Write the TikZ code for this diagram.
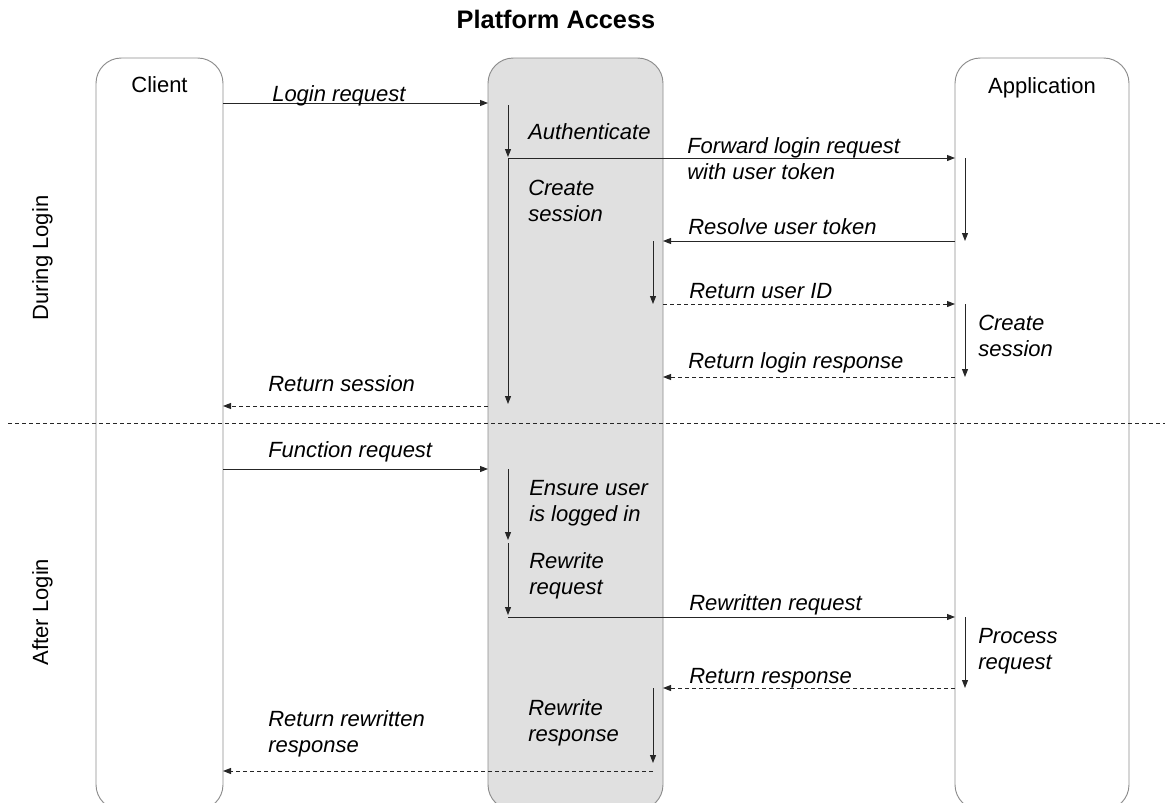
\documentclass[tikz,border=0pt]{standalone}
\usepackage{fontspec}
\setmainfont{Liberation Sans}
\usetikzlibrary{calc,arrows.meta}

\begin{document}
\begin{tikzpicture}[x=0.75pt,y=-0.75pt]
       \tikzstyle{lane} = [rectangle, rounded corners=19pt, draw=black!45, line width=0.7pt, minimum height=564pt, inner sep=0pt, outer sep=0pt];
       \tikzstyle{msg} = [draw=black!85, line width=0.75pt, -{Triangle[length=6pt,width=4.5pt]}];
       \tikzstyle{reply} = [msg, dash pattern=on 3pt off 2.25pt];
       \tikzstyle{lbl} = [anchor=base west, inner sep=0pt, align=left, font=\fontsize{16.5}{19.5}\selectfont\itshape];
       \tikzstyle{head} = [anchor=base, inner sep=0pt, font=\fontsize{16.5}{19.5}\selectfont];
       \useasboundingbox (0,0) rectangle (1168,803);
       \clip (0,0) rectangle (1168,803);

       % lanes
       \node[lane, minimum width=95.25pt] (client) at (159.5,434) {};
       \node[lane, minimum width=131.25pt, fill=black!12] (platform) at (575.5,434) {};
       \node[lane, minimum width=130.5pt] (app) at (1042,434) {};

       \node[head] (clienthd) at (159.5,92) {Client};
       \node[head] (apphd) at (1042,93) {Application};
       \node[head, font=\fontsize{19}{21}\selectfont\bfseries] (title) at (556,28) {Platform Access};
       \node[head, rotate=90] (during) at (48,258) {During Login};
       \node[head, rotate=90] (after) at (48,612) {After Login};

       % divider
       \coordinate (divl) at (8,423);
       \coordinate (divr) at (1165,423);
       \draw[black!85, line width=0.75pt, dash pattern=on 3pt off 2.25pt] (divl) -- (divr);

       % activation columns
       \coordinate (pl) at (508,0);
       \coordinate (pr) at (653,0);
       \coordinate (ap) at (965,0);

       % during login
       \coordinate (login) at (0,103);
       \coordinate (auth0) at (0,105);
       \coordinate (fwd) at (0,158);
       \coordinate (sess1) at (0,404);
       \coordinate (resolve) at (0,241);
       \coordinate (uid) at (0,304);
       \coordinate (lresp) at (0,377);
       \coordinate (rsess) at (0,406);

       \draw[msg] (client.east |- login) -- (platform.west |- login);
       \draw[msg] (pl |- auth0) -- ($(pl |- fwd)+(0,-1)$);
       \draw[msg] (pl |- fwd) -- (app.west |- fwd);
       \draw[msg] (pl |- fwd) -- (pl |- sess1);
       \draw[msg] (ap |- fwd) -- (ap |- resolve);
       \draw[msg] (app.west |- resolve) -- (platform.east |- resolve);
       \draw[msg] (pr |- resolve) -- (pr |- uid);
       \draw[reply] (platform.east |- uid) -- (app.west |- uid);
       \draw[msg] (ap |- uid) -- (ap |- lresp);
       \draw[reply] (app.west |- lresp) -- (platform.east |- lresp);
       \draw[reply] (platform.west |- rsess) -- (client.east |- rsess);

       \node[lbl] (loginlbl) at (272,101) {Login request};
       \node[lbl] (authlbl) at (528,139) {Authenticate};
       \node[lbl] (fwdlbl) at (687,179) {Forward login request\\with user token};
       \node[lbl] (sesslbl) at (528,221) {Create\\session};
       \node[lbl] (resolvelbl) at (688,234) {Resolve user token};
       \node[lbl] (uidlbl) at (689,298) {Return user ID};
       \node[lbl] (appsesslbl) at (978,356) {Create\\session};
       \node[lbl] (lresplbl) at (688,368) {Return login response};
       \node[lbl] (rsesslbl) at (268,391) {Return session};

       % after login
       \coordinate (func) at (0,469);
       \coordinate (ensure) at (0,540);
       \coordinate (rwq) at (0,543);
       \coordinate (rwq1) at (0,615);
       \coordinate (rwreq) at (0,617);
       \coordinate (resp) at (0,688);
       \coordinate (rwr) at (0,763);
       \coordinate (rresp) at (0,771);

       \draw[msg] (client.east |- func) -- (platform.west |- func);
       \draw[msg] (pl |- func) -- (pl |- ensure);
       \draw[msg] (pl |- rwq) -- (pl |- rwq1);
       \draw[msg] (pl |- rwreq) -- (app.west |- rwreq);
       \draw[msg] (ap |- rwreq) -- (ap |- resp);
       \draw[reply] (app.west |- resp) -- (platform.east |- resp);
       \draw[msg] (pr |- resp) -- (pr |- rwr);
       \draw[reply] (pr |- rresp) -- (client.east |- rresp);

       \node[lbl] (funclbl) at (268,457) {Function request};
       \node[lbl] (ensurelbl) at (529,521) {Ensure user\\is logged in};
       \node[lbl] (rwqlbl) at (529,594) {Rewrite\\request};
       \node[lbl] (rwreqlbl) at (689,610) {Rewritten request};
       \node[lbl] (proclbl) at (978,669) {Process\\request};
       \node[lbl] (resplbl) at (689,683) {Return response};
       \node[lbl] (rwrlbl) at (528,741) {Rewrite\\response};
       \node[lbl] (rresplbl) at (268,752) {Return rewritten\\response};
     \end{tikzpicture}
\end{document}
